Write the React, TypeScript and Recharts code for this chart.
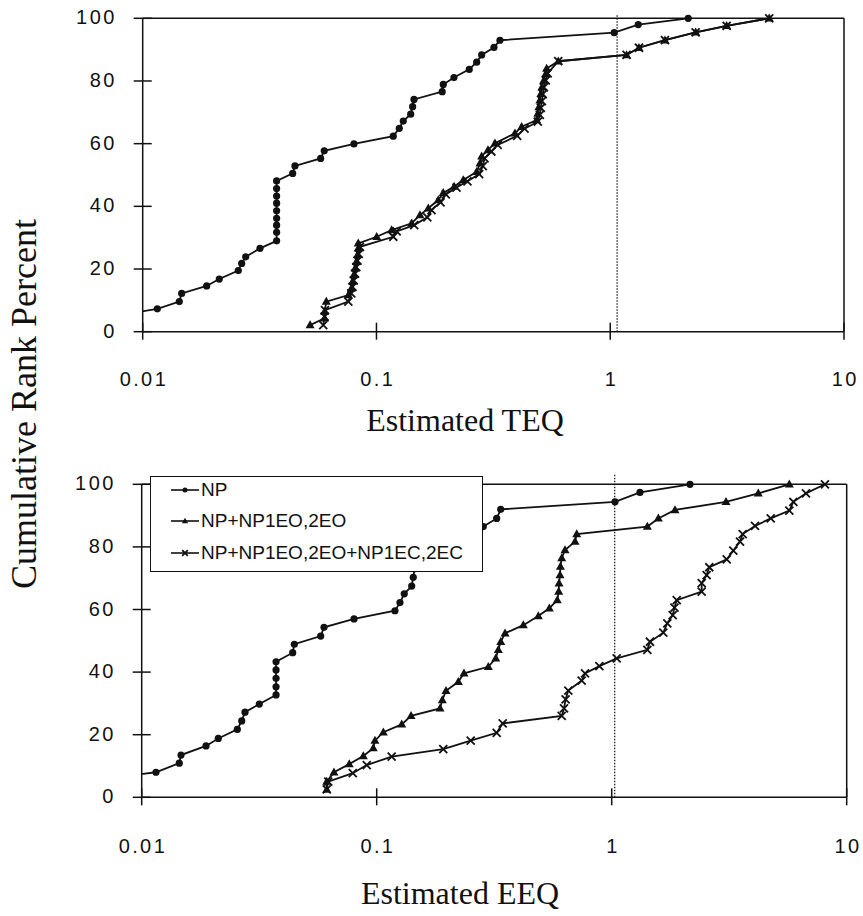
import { Legend, Line, LineChart, ReferenceLine, XAxis, YAxis } from 'recharts';

type Pt = [number, number];
type Shape = 'circle' | 'triangle' | 'cross';

// axis ticks and series names
const xTicks = [0.01, 0.1, 1, 10];
const yTicks = [0, 20, 40, 60, 80, 100];
const seriesNames = ['NP', 'NP+NP1EO,2EO', 'NP+NP1EO,2EO+NP1EC,2EC'];
const seriesShapes: Shape[] = ['circle', 'triangle', 'cross'];

// cut-off marked by the dotted vertical line
const teqCutoff = 1.07;
const eeqCutoff = 1.03;

// top panel: estimated TEQ vs cumulative rank percent
const teqNp: Pt[] = [
  [0.005, 2.4], [0.0075, 4.9],
  [0.01155, 7.3], [0.01434, 9.6], [0.01468, 12.2], [0.01878, 14.6], [0.02126, 16.8],
  [0.02564, 19.5], [0.02651, 21.8], [0.02758, 23.9], [0.03176, 26.6],
  [0.0374, 29.0], [0.0374, 31.7], [0.0374, 34.0], [0.0374, 36.2], [0.0374, 38.6],
  [0.0374, 41.0], [0.0374, 43.3], [0.0374, 45.7], [0.0374, 48.1],
  [0.04381, 50.5], [0.04481, 52.9], [0.05771, 55.3], [0.05979, 57.7], [0.08011, 59.9],
  [0.118, 62.4], [0.1252, 64.9], [0.1302, 67.2], [0.1401, 69.4], [0.1428, 71.8],
  [0.1447, 74.1], [0.1911, 76.6], [0.1931, 78.9], [0.2145, 81.1], [0.2494, 83.7],
  [0.2683, 86.0], [0.2818, 88.3], [0.3181, 90.7], [0.3375, 93.0],
  [1.04, 95.4], [1.318, 98.0], [2.156, 100],
];

const teqNpEo: Pt[] = [
  [0.052, 2.1], [0.06, 4.3], [0.06, 6.4], [0.061, 9.6], [0.0758, 11.7], [0.078, 13.8],
  [0.079, 16.0], [0.08, 18.1], [0.081, 20.2], [0.082, 22.3], [0.083, 24.5], [0.0836, 26.6],
  [0.0836, 28.2], [0.1002, 30.3], [0.1161, 32.4], [0.1414, 34.6], [0.1535, 37.2],
  [0.1666, 39.4], [0.1838, 42.0], [0.1931, 44.3], [0.215, 46.3], [0.2351, 48.4],
  [0.2683, 51.0], [0.2772, 53.7], [0.2818, 56.0], [0.3, 58.0], [0.3213, 60.1],
  [0.3913, 63.3], [0.4178, 65.4], [0.4844, 67.5], [0.49, 69.6], [0.495, 71.7],
  [0.5, 73.8], [0.505, 75.9], [0.51, 78.0], [0.52, 80.2], [0.53, 82.3], [0.5346, 84.0],
  [0.5993, 86.3], [1.175, 88.3], [1.327, 90.6], [1.714, 93.0], [2.319, 95.5],
  [3.147, 97.6], [4.786, 100],
];

const teqNpEoEc: Pt[] = [
  [0.0592, 2.1], [0.06, 4.8], [0.0602, 6.9], [0.0758, 9.6], [0.078, 12.2], [0.079, 14.3],
  [0.08, 16.4], [0.081, 18.5], [0.082, 20.6], [0.083, 22.7], [0.084, 24.8], [0.085, 27.1],
  [0.118, 30.3], [0.122, 32.0], [0.145, 34.0], [0.165, 36.5], [0.172, 38.8], [0.188, 41.3],
  [0.198, 43.8], [0.22, 46.0], [0.245, 48.0], [0.275, 50.3], [0.285, 52.8], [0.29, 55.3],
  [0.31, 57.5], [0.33, 59.6], [0.4, 62.5], [0.43, 64.8], [0.49, 67.0], [0.5, 69.2],
  [0.505, 71.4], [0.51, 73.6], [0.515, 75.8], [0.52, 78.0], [0.53, 80.2], [0.54, 82.4],
  [0.5993, 86.3], [1.175, 88.3], [1.327, 90.6], [1.714, 93.0], [2.319, 95.5],
  [3.147, 97.6], [4.786, 100],
];

// bottom panel: estimated EEQ vs cumulative rank percent
const eeqNp: Pt[] = [
  [0.004, 2.7], [0.006, 5.4],
  [0.0115, 8.0], [0.01445, 10.9], [0.0147, 13.5], [0.01878, 16.4], [0.02118, 18.8],
  [0.02552, 21.7], [0.02665, 24.4], [0.02752, 27.2], [0.03166, 29.8],
  [0.0373, 32.7], [0.0373, 35.3], [0.0373, 38.0], [0.0373, 40.7], [0.0373, 43.3],
  [0.04391, 46.2], [0.04461, 48.9], [0.05777, 51.5], [0.05967, 54.3], [0.08008, 57.0],
  [0.1196, 59.6], [0.1256, 62.2], [0.131, 65.0], [0.1409, 67.5], [0.1431, 70.3],
  [0.145, 73.0], [0.19, 75.7], [0.195, 78.4], [0.215, 81.1], [0.25, 83.8],
  [0.2842, 86.5], [0.324, 89.1], [0.3371, 92.0],
  [1.033, 94.4], [1.319, 97.4], [2.154, 100],
];

const eeqNpEo: Pt[] = [
  [0.0613, 2.5], [0.0613, 5.0], [0.0658, 8.0], [0.0764, 10.6], [0.0877, 13.2],
  [0.0967, 15.7], [0.0983, 18.1], [0.1067, 20.8], [0.1278, 23.3], [0.14, 26.0],
  [0.186, 28.4], [0.1902, 31.1], [0.1972, 34.0], [0.2225, 36.9], [0.2352, 39.6],
  [0.2985, 41.7], [0.3209, 44.4], [0.3292, 47.1], [0.3371, 49.7], [0.3516, 52.4],
  [0.4206, 55.0], [0.4873, 57.9], [0.5427, 60.4], [0.5868, 63.0], [0.595, 65.7],
  [0.597, 68.4], [0.6026, 71.0], [0.605, 73.7], [0.6127, 76.4], [0.6328, 79.0],
  [0.6981, 81.7], [0.7099, 84.1], [1.418, 86.5], [1.579, 89.1], [1.859, 91.8],
  [3.065, 94.4], [4.205, 97.1], [5.7, 100],
];

const eeqNpEoEc: Pt[] = [
  [0.0613, 2.5], [0.0622, 5.0], [0.0791, 7.7], [0.0907, 10.3], [0.1158, 13.0],
  [0.192, 15.4], [0.2512, 18.1], [0.324, 20.6], [0.3437, 23.6], [0.6127, 26.0],
  [0.6268, 28.4], [0.6367, 31.3], [0.6536, 34.1], [0.7453, 37.3], [0.7698, 39.6],
  [0.886, 41.9], [1.05, 44.4], [1.418, 47.1], [1.455, 49.7], [1.658, 52.6],
  [1.724, 55.6], [1.818, 58.2], [1.85, 60.6], [1.891, 63.0], [2.415, 65.7],
  [2.415, 68.4], [2.535, 71.0], [2.602, 73.5], [3.086, 76.0], [3.292, 78.8],
  [3.516, 81.7], [3.609, 84.1], [4.072, 86.7], [4.75, 89.1], [5.7, 91.6],
  [5.93, 94.4], [6.71, 97.1], [8.08, 100],
];

const INK = '#111';
const SANS = '"Liberation Sans", Arial, sans-serif';
const SERIF = '"Liberation Serif", "Times New Roman", serif';

const toRows = (pts: Pt[]) => pts.map(([x, y]) => ({ x, y }));

const Marker = ({ shape, cx, cy, s = 1 }: { shape: Shape; cx: number; cy: number; s?: number }) => {
  if (shape === 'circle') return <circle cx={cx} cy={cy} r={3.6 * s} fill={INK} />;
  if (shape === 'triangle') {
    return (
      <path
        d={`M${cx},${cy - 4.8 * s}L${cx + 4.5 * s},${cy + 3.2 * s}L${cx - 4.5 * s},${cy + 3.2 * s}Z`}
        fill={INK}
      />
    );
  }
  const r = 4 * s;
  return (
    <path
      d={`M${cx - r},${cy - r}L${cx + r},${cy + r}M${cx + r},${cy - r}L${cx - r},${cy + r}`}
      stroke={INK}
      strokeWidth={1.8}
    />
  );
};

const dotFor = (shape: Shape) => (props: any) => {
  const { cx, cy, index, payload } = props;
  if (cx == null || cy == null || payload.x < 0.01) return <g key={`dot-${index}`} />;
  return (
    <g key={`dot-${index}`}>
      <Marker shape={shape} cx={cx} cy={cy} />
    </g>
  );
};

const tickText = { fontFamily: SANS, fontSize: 20, letterSpacing: 2.4 };

const XTick = (props: any) => {
  const { x, y, payload, labelGap } = props;
  return (
    <g>
      <line x1={x} x2={x} y1={y - 9} y2={y + 8} stroke={INK} strokeWidth={1.5} />
      <text
        x={x + 1.2}
        y={y + labelGap}
        textAnchor="middle"
        dominantBaseline="central"
        fill={INK}
        style={tickText}
      >
        {String(payload.value)}
      </text>
    </g>
  );
};

const YTick = (props: any) => {
  const { x, y, payload } = props;
  return (
    <g>
      <line x1={x - 9} x2={x + 9} y1={y} y2={y} stroke={INK} strokeWidth={1.5} />
      <text
        x={x - 26}
        y={y - 1}
        textAnchor="end"
        dominantBaseline="central"
        fill={INK}
        style={tickText}
      >
        {String(payload.value)}
      </text>
    </g>
  );
};

const LegendBox = () => (
  <div
    style={{
      boxSizing: 'border-box',
      width: 333,
      height: 96,
      border: `1.5px solid ${INK}`,
      background: '#fff',
      position: 'relative',
    }}
  >
    {seriesNames.map((name, i) => (
      <div
        key={name}
        style={{
          position: 'absolute',
          left: 0,
          top: 12.5 + i * 31.5 - 12,
          height: 24,
          display: 'flex',
          alignItems: 'center',
        }}
      >
        <svg width={50} height={24}>
          <line x1={20} x2={48} y1={12} y2={12} stroke={INK} strokeWidth={1.6} />
          <Marker shape={seriesShapes[i]} cx={34} cy={12} s={0.7} />
        </svg>
        <span style={{ fontFamily: SANS, fontSize: 19, color: INK, whiteSpace: 'nowrap' }}>{name}</span>
      </div>
    ))}
  </div>
);

interface PanelProps {
  top: number;
  margin: { top: number; right: number; bottom: number; left: number };
  series: Pt[][];
  cutoff: number;
  cutoffTop: number;
  labelGap: number;
  withLegend?: boolean;
}

const Panel = ({ top, margin, series, cutoff, cutoffTop, labelGap, withLegend }: PanelProps) => (
  <div style={{ position: 'absolute', left: 0, top }}>
    <LineChart width={863} height={400} margin={margin}>
      <XAxis
        dataKey="x"
        type="number"
        scale="log"
        domain={[0.01, 10]}
        ticks={xTicks}
        allowDataOverflow
        interval={0}
        height={50}
        tickLine={false}
        tickSize={0}
        tickMargin={0}
        axisLine={{ stroke: INK, strokeWidth: 1.5 }}
        tick={<XTick labelGap={labelGap} />}
      />
      <YAxis
        type="number"
        domain={[0, 100]}
        ticks={yTicks}
        interval={0}
        width={60}
        tickLine={false}
        tickSize={0}
        tickMargin={0}
        axisLine={{ stroke: INK, strokeWidth: 1.5 }}
        tick={<YTick />}
      />
      <ReferenceLine y={100} stroke={INK} strokeWidth={1.5} />
      <ReferenceLine x={10} stroke={INK} strokeWidth={1.5} />
      <ReferenceLine
        segment={[
          { x: cutoff, y: 0 },
          { x: cutoff, y: cutoffTop },
        ]}
        stroke={INK}
        strokeWidth={1.2}
        strokeDasharray="1.5 1.5"
        ifOverflow="visible"
      />
      {series.map((pts, i) => (
        <Line
          key={seriesNames[i]}
          data={toRows(pts)}
          dataKey="y"
          name={seriesNames[i]}
          type="linear"
          stroke={INK}
          strokeWidth={1.8}
          dot={dotFor(seriesShapes[i])}
          activeDot={false}
          isAnimationActive={false}
        />
      ))}
      {withLegend && (
        <Legend
          layout="horizontal"
          verticalAlign="middle"
          align="center"
          content={<LegendBox />}
          wrapperStyle={{ left: 150, top: 16, width: 333, height: 96, right: 'auto', bottom: 'auto' }}
        />
      )}
    </LineChart>
  </div>
);

const App = () => {
  return (
    <div style={{ position: 'absolute', left: 0, top: 0, width: 863, height: 916, background: '#fff' }}>
      <Panel
        top={0}
        margin={{ top: 18.3, right: 19, bottom: 18.3, left: 82.7 }}
        series={[teqNp, teqNpEo, teqNpEoEc]}
        cutoff={teqCutoff}
        cutoffTop={101}
        labelGap={47}
      />
      <Panel
        top={460}
        margin={{ top: 24.3, right: 16.3, bottom: 12.7, left: 81.7 }}
        series={[eeqNp, eeqNpEo, eeqNpEoEc]}
        cutoff={eeqCutoff}
        cutoffTop={103.2}
        labelGap={49}
        withLegend
      />
      <svg
        width={863}
        height={916}
        style={{ position: 'absolute', left: 0, top: 0, pointerEvents: 'none' }}
      >
        <text transform="translate(36, 404) rotate(-90)" textAnchor="middle" fontFamily={SERIF} fontSize={36} fill={INK}>
          Cumulative Rank Percent
        </text>
        <text x={465} y={431} textAnchor="middle" fontFamily={SERIF} fontSize={32} fill={INK}>
          Estimated TEQ
        </text>
        <text x={460} y={904} textAnchor="middle" fontFamily={SERIF} fontSize={32} fill={INK}>
          Estimated EEQ
        </text>
      </svg>
    </div>
  );
};

export default App;
